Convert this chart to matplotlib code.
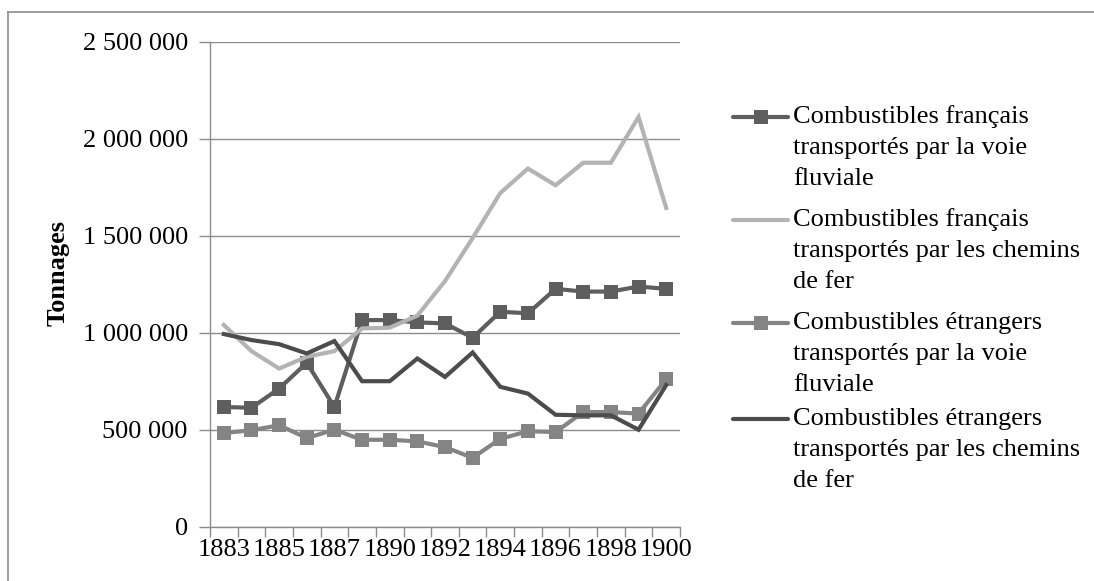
import matplotlib
matplotlib.use("Agg")
import matplotlib.pyplot as plt
from matplotlib.lines import Line2D
from matplotlib.ticker import FuncFormatter, MultipleLocator, FixedLocator, NullFormatter

plt.rcParams['font.family'] = ['Liberation Serif', 'DejaVu Serif']

years = ["1883", "1884", "1885", "1886", "1887", "1888", "1890", "1891", "1892",
         "1893", "1894", "1895", "1896", "1897", "1898", "1899", "1900"]
shown_labels = ["1883", "1885", "1887", "1890", "1892", "1894", "1896", "1898", "1900"]

fr_fluvial = [617000, 613000, 712000, 845000, 617000, 1065000, 1065000, 1053000, 1048000,
              974000, 1108000, 1100000, 1226000, 1212000, 1212000, 1238000, 1226000]
fr_rail = [1040000, 905000, 815000, 876000, 905000, 1022000, 1026000, 1088000, 1266000,
           1488000, 1720000, 1846000, 1760000, 1876000, 1876000, 2112000, 1643000]
et_fluvial = [483000, 497000, 523000, 457000, 500000, 448000, 448000, 440000, 410000,
              355000, 453000, 492000, 488000, 591000, 591000, 583000, 760000]
et_rail = [993000, 962000, 941000, 893000, 957000, 750000, 750000, 867000, 772000,
           898000, 721000, 686000, 577000, 574000, 574000, 500000, 730000]

series_names = [
    ["Combustibles français", "transportés par la voie", "fluviale"],
    ["Combustibles français", "transportés par les chemins", "de fer"],
    ["Combustibles étrangers", "transportés par la voie", "fluviale"],
    ["Combustibles étrangers", "transportés par les chemins", "de fer"],
]
y_label = "Tonnages"

FS = 19
W, H = 1094, 581
fig = plt.figure(figsize=(W / 100, H / 100), dpi=100)
ax = fig.add_axes([210 / W, 1 - 526.7 / H, (680 - 210) / W, (526.7 - 41.7) / H])

colors = ["#5e5e5e", "#b3b3b3", "#848484", "#4c4c4c"]
markers = ["s", None, "s", None]
data = [fr_fluvial, fr_rail, et_fluvial, et_rail]
x = list(range(len(years)))
for vals, c, m in zip(data, colors, markers):
    ax.plot(x, vals, color=c, lw=3.0, marker=m, markersize=10.5,
            markeredgewidth=0, solid_joinstyle='miter', clip_on=False)

ax.set_xlim(-0.5, len(years) - 0.5)
ax.set_ylim(0, 2500000)
ax.yaxis.set_major_locator(MultipleLocator(500000))
ax.yaxis.set_major_formatter(FuncFormatter(lambda v, p: f"{int(v):,}".replace(",", " ")))
ax.grid(axis='y', color='#8c8c8c', lw=1.0)
ax.set_axisbelow(True)

# category boundaries as ticks, labels every other category
ax.xaxis.set_major_locator(FixedLocator([i - 0.5 for i in range(len(years) + 1)]))
ax.xaxis.set_major_formatter(NullFormatter())
ax.set_xticks([years.index(l) for l in shown_labels], minor=True)
ax.set_xticklabels(shown_labels, minor=True)
ax.tick_params(axis='x', which='minor', length=0, pad=9, labelsize=FS)
ax.tick_params(axis='x', which='major', length=7, width=1, color='#8c8c8c', direction='out')
ax.tick_params(axis='y', length=8, width=1, color='#8c8c8c', direction='out', labelsize=FS, pad=8)

for s in ['top', 'right']:
    ax.spines[s].set_visible(False)
for s in ['left', 'bottom']:
    ax.spines[s].set_color('#8c8c8c')
    ax.spines[s].set_linewidth(1.0)

fig.text(58 / W, 1 - 273 / H, y_label, rotation=90, ha='center', va='center',
         fontsize=FS, fontweight='bold')

# legend drawn manually
entry_y = [117, 220, 323, 419]
for names, c, m, ey in zip(series_names, colors, markers, entry_y):
    fy = 1 - ey / H
    fig.add_artist(Line2D([733 / W, 788 / W], [fy, fy], color=c, lw=3.0,
                          marker=None, transform=fig.transFigure, solid_capstyle='round'))
    if m:
        fig.add_artist(Line2D([760.5 / W], [fy], color=c, marker=m, markersize=10.5,
                              markeredgewidth=0, transform=fig.transFigure))
    for i, t in enumerate(names):
        fig.text(793 / W, 1 - (ey + i * 31) / H, t, ha='left', va='center', fontsize=FS)

# outer border (top and left only)
fig.add_artist(Line2D([8 / W, 1.0], [1 - 12 / H, 1 - 12 / H], color='#8c8c8c', lw=1.2,
                      transform=fig.transFigure))
fig.add_artist(Line2D([8 / W, 8 / W], [0, 1 - 12 / H], color='#8c8c8c', lw=1.2,
                      transform=fig.transFigure))

fig.savefig("out.png", dpi=100)
